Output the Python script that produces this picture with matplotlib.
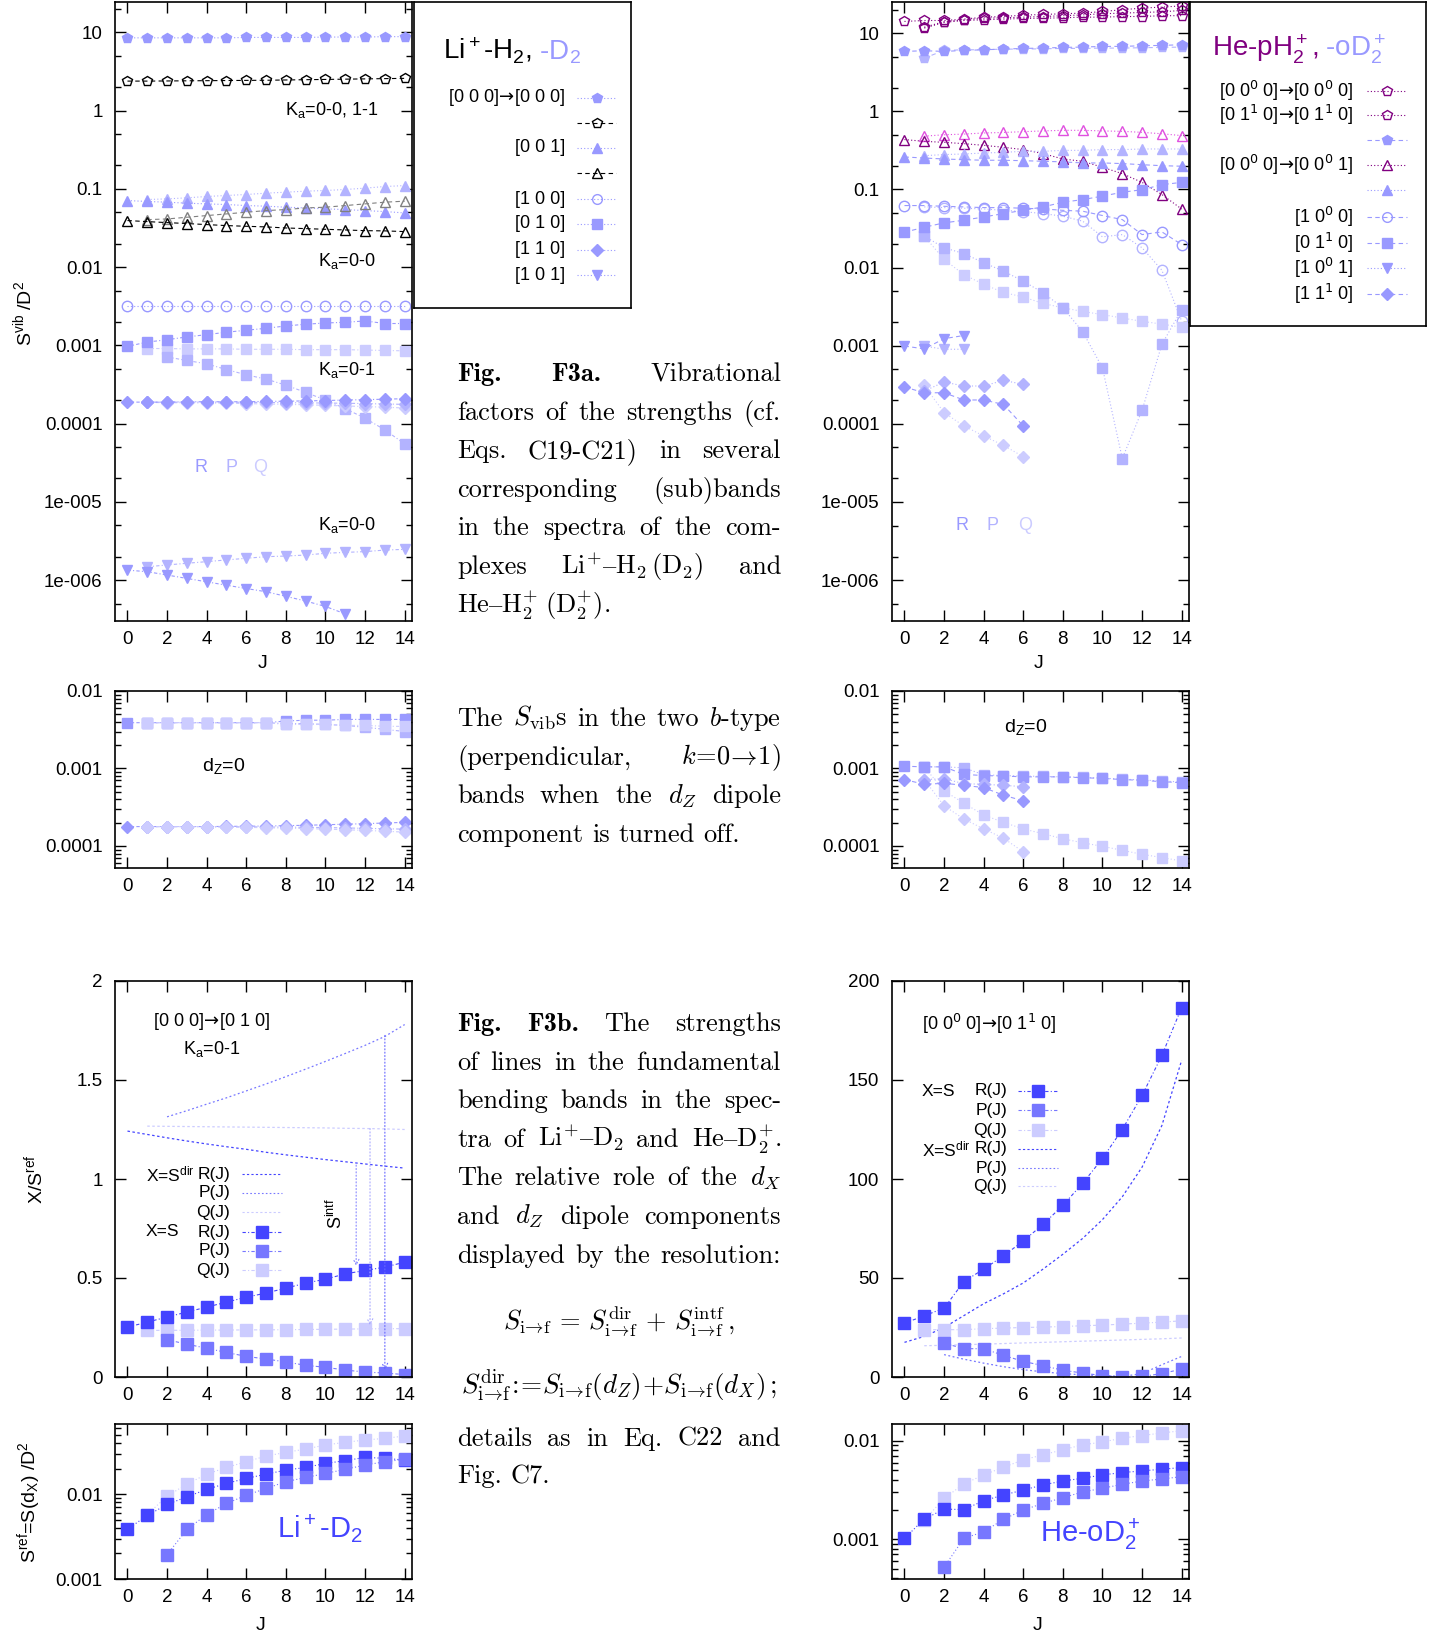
import numpy as np
import matplotlib
matplotlib.use('Agg')
import matplotlib.pyplot as plt
from matplotlib.lines import Line2D
from matplotlib.ticker import FixedLocator, FixedFormatter, LogLocator, NullFormatter, NullLocator

W, H = 1442, 1636

plt.rcParams.update({
    'font.family': ['Liberation Sans', 'DejaVu Sans'],
    'font.size': 13.5,
    'mathtext.fontset': 'custom',
    'mathtext.rm': 'Liberation Sans',
    'mathtext.it': 'Liberation Sans:italic',
    'mathtext.bf': 'Liberation Sans:bold',
    'axes.linewidth': 1.2,
})

# ---------------- data ----------------
J = np.arange(15)
J1 = np.arange(1, 15)
J2 = np.arange(2, 15)

# Li+-H2 / Li+-D2, vibrational factors
li_pent_D2 = [8.5, 8.5, 8.5, 8.5, 8.5, 8.5, 8.6, 8.6, 8.6, 8.6, 8.7, 8.7, 8.7, 8.8, 8.8]
li_pent_H2 = [2.38, 2.38, 2.39, 2.40, 2.41, 2.42, 2.43, 2.44, 2.46, 2.48, 2.50, 2.52, 2.54, 2.56, 2.58]
li_tri_D2_R = [0.0708, 0.0689, 0.0675, 0.0655, 0.0642, 0.063, 0.0611, 0.060, 0.0582, 0.057, 0.0554, 0.0543, 0.0527, 0.0512, 0.0492]
li_tri_D2_P = [0.073, 0.0744, 0.0767, 0.0798, 0.0822, 0.0846, 0.088, 0.0906, 0.0933, 0.0952, 0.098, 0.102, 0.107, 0.11]
li_tri_H2_R = [0.0393, 0.0381, 0.037, 0.036, 0.0349, 0.0339, 0.0332, 0.0326, 0.0316, 0.031, 0.0304, 0.0298, 0.0292, 0.029, 0.0284]
li_tri_H2_P = [0.0404, 0.0412, 0.0433, 0.0455, 0.0478, 0.0502, 0.0527, 0.0543, 0.057, 0.0582, 0.0611, 0.0642, 0.0675, 0.0695]
li_circ = [0.0032, 0.0032, 0.0032, 0.0032, 0.0032, 0.0032, 0.0032, 0.0032, 0.0032, 0.0032, 0.0032, 0.0032, 0.0032, 0.0032, 0.0032]
li_sq_R = [0.00097, 0.0011, 0.00118, 0.00128, 0.00137, 0.00147, 0.00156, 0.00165, 0.00177, 0.00186, 0.00193, 0.00197, 0.00205, 0.0019, 0.0019]
li_sq_P = [0.00071, 0.00064, 0.00058, 0.00049, 0.00042, 0.00037, 0.00031, 0.00025, 0.0002, 0.000155, 0.000117, 0.000083, 0.000055]
li_sq_Q = [0.00091, 0.00091, 0.0009, 0.0009, 0.0009, 0.00089, 0.00089, 0.00089, 0.00088, 0.00088, 0.00088, 0.00087, 0.00086, 0.00085]
li_dia_R = [1.88e-4, 1.88e-4, 1.88e-4, 1.9e-4, 1.9e-4, 1.9e-4, 1.9e-4, 1.92e-4, 1.93e-4, 1.95e-4, 1.97e-4, 2.0e-4, 2.02e-4, 2.05e-4, 2.08e-4]
li_dia_P = [1.88e-4, 1.88e-4, 1.88e-4, 1.88e-4, 1.88e-4, 1.87e-4, 1.86e-4, 1.85e-4, 1.84e-4, 1.83e-4, 1.82e-4, 1.8e-4, 1.78e-4, 1.76e-4]
li_dia_Q = [1.86e-4, 1.85e-4, 1.84e-4, 1.83e-4, 1.82e-4, 1.8e-4, 1.78e-4, 1.76e-4, 1.74e-4, 1.71e-4, 1.68e-4, 1.65e-4, 1.62e-4, 1.58e-4]
li_dtri_R = [1.34e-6, 1.28e-6, 1.16e-6, 1.05e-6, 9.5e-7, 8.6e-7, 7.8e-7, 7.1e-7, 6.2e-7, 5.4e-7, 4.6e-7, 3.7e-7]
li_dtri_P = [1.48e-6, 1.56e-6, 1.64e-6, 1.72e-6, 1.81e-6, 1.9e-6, 1.99e-6, 2.03e-6, 2.09e-6, 2.2e-6, 2.26e-6, 2.31e-6, 2.42e-6, 2.47e-6]

# He-pH2+ / He-oD2+, vibrational factors
he_pent_A = [14.1, 14.5, 14.5, 15.1, 16.0, 16.3, 17.0, 17.3, 17.7, 18.0, 18.9, 19.9, 20.9, 21.5, 22.3]
he_pent_B = [11.9, 14.0, 14.8, 15.5, 15.7, 16.0, 16.3, 16.7, 17.1, 17.7, 18.0, 18.4, 18.7, 19.5]
he_pent_C = [11.6, 13.7, 14.5, 14.8, 15.1, 15.4, 15.5, 15.7, 16.0, 16.0, 16.3, 16.3, 16.7, 16.7]
hd_pent_R = [5.83, 5.95, 5.83, 6.0, 6.12, 6.24, 6.37, 6.43, 6.56, 6.62, 6.76, 6.76, 6.89, 6.96, 7.1]
hd_pent_P = [4.79, 6.0, 6.12, 6.12, 6.24, 6.24, 6.3, 6.37, 6.37, 6.43, 6.43, 6.5, 6.56, 6.62]
he_tri_R = [0.434, 0.412, 0.40, 0.385, 0.366, 0.346, 0.323, 0.287, 0.245, 0.229, 0.192, 0.159, 0.123, 0.086, 0.056]
he_tri_P = [0.48, 0.50, 0.51, 0.527, 0.535, 0.548, 0.56, 0.57, 0.57, 0.56, 0.553, 0.537, 0.515, 0.488]
hd_tri_R = [0.26, 0.252, 0.245, 0.24, 0.236, 0.236, 0.233, 0.229, 0.225, 0.218, 0.218, 0.214, 0.207, 0.201, 0.198]
hd_tri_P = [0.27, 0.279, 0.284, 0.292, 0.298, 0.307, 0.307, 0.316, 0.316, 0.323, 0.323, 0.329, 0.329, 0.329]
hd_circ_R = [0.0621, 0.0621, 0.0608, 0.0597, 0.0585, 0.0585, 0.0574, 0.0562, 0.054, 0.0526, 0.0463, 0.0411, 0.0264, 0.0286, 0.0197]
hd_circ_P = [0.0597, 0.0585, 0.0574, 0.0562, 0.054, 0.052, 0.049, 0.0454, 0.0392, 0.0247, 0.0264, 0.0179, 0.00925, 0.00206]
hd_sq_R = [0.0283, 0.0328, 0.0373, 0.0403, 0.0444, 0.049, 0.054, 0.0597, 0.0685, 0.074, 0.082, 0.092, 0.099, 0.115, 0.123]
hd_sq_P = [0.0252, 0.0179, 0.0151, 0.0115, 0.009, 0.0067, 0.00475, 0.00306, 0.00151, 0.00052, 3.6e-5, 1.49e-4, 0.00104, 0.0029]
hd_sq_Q = [0.0252, 0.0127, 0.0081, 0.0061, 0.0048, 0.0042, 0.00347, 0.00306, 0.00274, 0.0025, 0.00226, 0.00205, 0.00189, 0.00172]
hd_dtri_R = [0.00099, 0.00091, 0.00123, 0.00135]
hd_dtri_P = [0.00099, 0.0009, 0.0009]
hd_dia_R = [2.96e-4, 2.5e-4, 2.5e-4, 2.02e-4, 2.02e-4, 1.77e-4, 9.4e-5]
hd_dia_P = [2.63e-4, 3.43e-4, 3.05e-4, 3.05e-4, 3.6e-4, 3.2e-4]
hd_dia_Q = [3.1e-4, 1.39e-4, 9.4e-5, 7.0e-5, 5.3e-5, 3.8e-5]

# d_Z = 0
mz_li_sq_R = [0.0039, 0.0039, 0.0039, 0.0039, 0.0039, 0.0039, 0.0039, 0.0039, 0.0041, 0.0042, 0.0042, 0.0043, 0.0043, 0.0043, 0.0043]
mz_li_sq_P = [0.0039, 0.0039, 0.0039, 0.0039, 0.0039, 0.0039, 0.0039, 0.0038, 0.0038, 0.0037, 0.0036, 0.0034, 0.0032, 0.003]
mz_li_sq_Q = [0.0039, 0.0039, 0.0039, 0.0039, 0.0039, 0.0039, 0.0039, 0.0037, 0.0037, 0.0037, 0.0036, 0.0036, 0.0035, 0.0035]
mz_li_dia_R = [1.78e-4, 1.78e-4, 1.78e-4, 1.78e-4, 1.78e-4, 1.79e-4, 1.8e-4, 1.81e-4, 1.83e-4, 1.85e-4, 1.88e-4, 1.91e-4, 1.94e-4, 1.98e-4, 2.02e-4]
mz_li_dia_P = [1.78e-4, 1.78e-4, 1.78e-4, 1.78e-4, 1.77e-4, 1.77e-4, 1.76e-4, 1.75e-4, 1.74e-4, 1.73e-4, 1.71e-4, 1.69e-4, 1.67e-4, 1.65e-4]
mz_li_dia_Q = [1.78e-4, 1.77e-4, 1.77e-4, 1.76e-4, 1.75e-4, 1.74e-4, 1.72e-4, 1.7e-4, 1.68e-4, 1.65e-4, 1.62e-4, 1.59e-4, 1.55e-4, 1.51e-4]
mz_he_sq_R = [0.00107, 0.00105, 0.00105, 0.00084, 0.00081, 0.0008, 0.00078, 0.00078, 0.00078, 0.00076, 0.000745, 0.00072, 0.000703, 0.000676, 0.000656]
mz_he_sq_P = [0.00105, 0.00105, 0.00102, 0.00083, 0.00081, 0.0008, 0.00079, 0.00078, 0.00077, 0.00075, 0.00073, 0.00071, 0.00069, 0.00067]
mz_he_sq_Q = [0.00105, 0.000514, 0.000357, 0.000251, 0.000202, 0.000166, 0.000144, 0.000124, 0.00011, 9.9e-5, 8.8e-5, 7.8e-5, 7.1e-5, 6.4e-5]
mz_he_dia_R = [7.2e-4, 6.25e-4, 6.44e-4, 6.07e-4, 5.67e-4, 4.52e-4, 3.83e-4]
mz_he_dia_P = [7.2e-4, 7.38e-4, 6.37e-4, 6.25e-4, 6.07e-4, 5.83e-4]
mz_he_dia_Q = [7.2e-4, 3.3e-4, 2.23e-4, 1.66e-4, 1.26e-4, 8.4e-5]

# bending bands, X/S^ref
bl_S_R = [0.252, 0.277, 0.303, 0.328, 0.353, 0.378, 0.403, 0.424, 0.449, 0.474, 0.494, 0.521, 0.538, 0.555, 0.58]
bl_S_P = [0.188, 0.166, 0.145, 0.124, 0.104, 0.091, 0.076, 0.059, 0.049, 0.035, 0.025, 0.020, 0.012]
bl_S_Q = [0.235, 0.236, 0.236, 0.237, 0.237, 0.238, 0.238, 0.239, 0.240, 0.241, 0.242, 0.243, 0.244, 0.244]
bl_dir_R = [1.242, 1.225, 1.208, 1.192, 1.177, 1.163, 1.150, 1.135, 1.122, 1.110, 1.098, 1.087, 1.076, 1.065, 1.055]
bl_dir_P = [1.314, 1.345, 1.378, 1.41, 1.445, 1.48, 1.517, 1.555, 1.594, 1.634, 1.675, 1.72, 1.78]
bl_dir_Q = [1.267, 1.266, 1.265, 1.264, 1.263, 1.262, 1.261, 1.26, 1.259, 1.258, 1.256, 1.255, 1.253, 1.25]
intf_J = [11.55, 12.25, 13.0]
intf_from = [1.07, 1.255, 1.725]
intf_to = [0.56, 0.26, 0.035]

br_S_R = [27.2, 30.9, 34.8, 48.2, 54.5, 61.2, 68.7, 77.1, 86.7, 97.8, 110.4, 125.0, 142.2, 162.4, 186.6]
br_S_P = [17.1, 14.3, 14.3, 10.9, 7.9, 5.7, 3.4, 2.0, 0.7, 0.0, 0.3, 1.7, 4.0]
br_S_Q = [23.9, 23.9, 23.9, 24.4, 24.7, 25.0, 25.2, 25.5, 25.9, 26.2, 26.7, 27.2, 27.7, 28.4]
br_dir_R = [17.5, 20.5, 25.0, 31.0, 37.0, 42.0, 47.5, 54.5, 62.0, 70.0, 79.5, 91.0, 106.0, 127.0, 160.0]
br_dir_P = [11.3, 9.0, 7.0, 5.2, 3.7, 2.6, 1.7, 1.1, 0.7, 0.3, 1.7, 6.2, 10.4]
br_dir_Q = [15.8, 16.0, 16.3, 16.6, 16.9, 17.2, 17.5, 17.8, 18.1, 18.4, 18.7, 19.0, 19.3, 19.7]

# S^ref = S(d_X)
sl_R = [0.00386, 0.0056, 0.00755, 0.0093, 0.01135, 0.0134, 0.0153, 0.0172, 0.0192, 0.0206, 0.023, 0.0248, 0.0271, 0.0264, 0.0252]
sl_P = [0.00194, 0.00383, 0.00575, 0.00776, 0.0097, 0.01166, 0.014, 0.0157, 0.0175, 0.0196, 0.022, 0.0241, 0.0257]
sl_Q = [0.00575, 0.00947, 0.0131, 0.0172, 0.0206, 0.0241, 0.0281, 0.031, 0.034, 0.0379, 0.0408, 0.0434, 0.0454, 0.0484]
sr_R = [0.00102, 0.0016, 0.00202, 0.002, 0.00246, 0.00281, 0.00316, 0.00356, 0.0039, 0.00416, 0.0045, 0.00475, 0.00494, 0.00514, 0.00534]
sr_P = [0.00052, 0.00102, 0.00119, 0.00159, 0.00198, 0.00231, 0.00264, 0.00302, 0.00329, 0.00361, 0.0039, 0.00409, 0.00432]
sr_Q = [0.00156, 0.0026, 0.00364, 0.0045, 0.00538, 0.0064, 0.0072, 0.0081, 0.0091, 0.0097, 0.01064, 0.0113, 0.012, 0.01265]

log_ticks = [10, 1, 0.1, 0.01, 0.001, 0.0001, 1e-5, 1e-6]
log_labels = ['10', '1', '0.1', '0.01', '0.001', '0.0001', '1e-005', '1e-006']

# ---------------- styles ----------------
C_R, C_P, C_Q = '#9999ff', '#b3b3ff', '#ccccff'
B_R, B_P, B_Q = '#4444ff', '#7777ff', '#ccccff'
PURPLE, PINK = '#800080', '#e050e0'
DOT = (0, (1, 2))
DDOT = (0, (3, 2, 1, 2))
DASH = (0, (4, 3))
ARW = r'$\!\rightarrow\!$'

fig = plt.figure(figsize=(W / 100, H / 100), dpi=100)


def rect(x0, y0, x1, y1):
    return [x0 / W, 1 - y1 / H, (x1 - x0) / W, (y1 - y0) / H]


def fx(x):
    return x / W


def fy(y):
    return 1 - y / H


def setup(ax, ylim, yticks, ylabels, log=True, subs=(2, 5)):
    ax.set_xlim(-0.63, 14.37)
    if log:
        ax.set_yscale('log')
    ax.set_ylim(*ylim)
    ax.xaxis.set_major_locator(FixedLocator(range(0, 15, 2)))
    ax.xaxis.set_minor_locator(NullLocator())
    ax.yaxis.set_major_locator(FixedLocator(yticks))
    ax.yaxis.set_major_formatter(FixedFormatter(ylabels))
    if log:
        ax.yaxis.set_minor_locator(LogLocator(base=10, subs=subs, numticks=30))
        ax.yaxis.set_minor_formatter(NullFormatter())
    else:
        ax.yaxis.set_minor_locator(NullLocator())
    ax.tick_params(which='both', direction='in', top=True, right=True, width=1)
    ax.tick_params(which='major', length=8, labelsize=13.5)
    ax.tick_params(which='minor', length=4)
    ax.tick_params(axis='y', pad=9)
    ax.tick_params(axis='x', pad=7)


def ser(ax, x, y, mk, c, ls=DOT, hollow=False, ms=7.5, lw=0.8):
    ax.plot(x, y, ls=ls, color=c, lw=lw, marker=mk, ms=ms,
            mfc='none' if hollow else c, mec=c, mew=1.0)


def key(x0, x1, y, c, ls, mk=None, hollow=False, ms=7.5):
    fig.add_artist(Line2D([fx(x0), fx(x1)], [fy(y), fy(y)], transform=fig.transFigure,
                          color=c, ls=ls, lw=0.8))
    if mk:
        fig.add_artist(Line2D([fx((x0 + x1) / 2)], [fy(y)], transform=fig.transFigure,
                              marker=mk, ms=ms, color=c, mfc='none' if hollow else c, mec=c, mew=1.0))


def label(x, y, s, ha='center', **kw):
    # labels with arrows: math in DejaVu so the arrow has a normal size
    fig.text(fx(x), fy(y), s, ha=ha, va='center', math_fontfamily='dejavusans', **kw)


# ---------------- top-left: Li+-H2, -D2 ----------------
ax = fig.add_axes(rect(115, 2, 412, 621))
setup(ax, (3.0e-7, 24.4), log_ticks, log_labels)
ser(ax, J, li_pent_D2, 'p', C_R)
ser(ax, J, li_pent_H2, 'p', 'k', DASH, hollow=True)
ser(ax, J1, li_tri_D2_P, '^', C_P)
ser(ax, J, li_tri_D2_R, '^', C_R)
ser(ax, J1, li_tri_H2_P, '^', 'gray', DASH, hollow=True)
ser(ax, J, li_tri_H2_R, '^', 'k', DASH, hollow=True)
ser(ax, J, li_circ, 'o', C_R, hollow=True)
ser(ax, J1, li_sq_Q, 's', C_Q, DDOT)
ser(ax, J2, li_sq_P, 's', C_P, DDOT)
ser(ax, J, li_sq_R, 's', C_R, DDOT)
ser(ax, J1, li_dia_Q, 'D', C_Q, DDOT, ms=6.5)
ser(ax, J1, li_dia_P, 'D', C_P, DDOT, ms=6.5)
ser(ax, J, li_dia_R, 'D', C_R, DDOT, ms=6.5)
ser(ax, J1, li_dtri_P, 'v', C_P, DDOT)
ser(ax, np.arange(12), li_dtri_R, 'v', C_R, DDOT)
fs_in = 13
fig.text(fx(332), fy(110), r'K$_\mathrm{a}$=0-0, 1-1', ha='center', va='center', fontsize=fs_in)
fig.text(fx(347), fy(261), r'K$_\mathrm{a}$=0-0', ha='center', va='center', fontsize=fs_in)
fig.text(fx(347), fy(370), r'K$_\mathrm{a}$=0-1', ha='center', va='center', fontsize=fs_in)
fig.text(fx(347), fy(525), r'K$_\mathrm{a}$=0-0', ha='center', va='center', fontsize=fs_in)
for xx, lab, c in [(201, 'R', C_R), (231, 'P', C_P), (260, 'Q', C_Q)]:
    fig.text(fx(xx), fy(467), lab, color=c, ha='center', va='center', fontsize=fs_in)

# legend box
lg = fig.add_axes(rect(414, 2, 631, 308))
lg.set_xticks([])
lg.set_yticks([])
t1 = fig.text(fx(443), fy(59), r'Li$^+$-H$_2$,', fontsize=20, va='baseline')
lg.annotate(r' -D$_2$', xy=(1, 0), xycoords=t1, va='bottom', ha='left', fontsize=20, color=C_R)
tl_rows = [(98, '[0 0 0]' + ARW + '[0 0 0]', C_R, DOT, 'p', False),
           (123, '', 'k', DASH, 'p', True),
           (148, '[0 0 1]', C_R, DOT, '^', False),
           (173, '', 'k', DASH, '^', True),
           (199, '[1 0 0]', C_R, DOT, 'o', True),
           (224, '[0 1 0]', C_R, DOT, 's', False),
           (250, '[1 1 0]', C_R, DOT, 'D', False),
           (275, '[1 0 1]', C_R, DOT, 'v', False)]
for yy, lab, c, ls, mk, hol in tl_rows:
    label(565, yy, lab, ha='right', fontsize=13)
    key(577, 616, yy, c, ls, mk, hol, ms=7 if mk != 'D' else 6)

# ---------------- top-right: He-pH2+, -oD2+ ----------------
ax = fig.add_axes(rect(892, 2, 1189, 621))
setup(ax, (3.0e-7, 25.0), log_ticks, log_labels)
ser(ax, J, he_pent_A, 'p', PURPLE, DOT, hollow=True)
ser(ax, J1, he_pent_B, 'p', PURPLE, DOT, hollow=True)
ser(ax, J1, he_pent_C, 'p', PURPLE, DOT, hollow=True)
ser(ax, J1, hd_pent_P, 'p', C_P, DASH)
ser(ax, J, hd_pent_R, 'p', C_R, DASH)
ser(ax, J1, he_tri_P, '^', PINK, DOT, hollow=True)
ser(ax, J, he_tri_R, '^', PURPLE, DOT, hollow=True)
ser(ax, J1, hd_tri_P, '^', C_P, DOT)
ser(ax, J, hd_tri_R, '^', C_R, DASH)
ser(ax, J1, hd_circ_P, 'o', C_P, DOT, hollow=True)
ser(ax, J, hd_circ_R, 'o', C_R, DASH, hollow=True)
ser(ax, J1, hd_sq_Q, 's', C_Q, DOT)
ser(ax, J1, hd_sq_P, 's', C_P, DOT)
ser(ax, J, hd_sq_R, 's', C_R, DASH)
ser(ax, [1, 2, 3], hd_dtri_P, 'v', C_P, DOT)
ser(ax, [0, 1, 2, 3], hd_dtri_R, 'v', C_R, DASH)
ser(ax, [1, 2, 3, 4, 5, 6], hd_dia_Q, 'D', C_Q, DOT, ms=6.5)
ser(ax, [1, 2, 3, 4, 5, 6], hd_dia_P, 'D', C_P, DOT, ms=6.5)
ser(ax, [0, 1, 2, 3, 4, 5, 6], hd_dia_R, 'D', C_R, DASH, ms=6.5)
for xx, lab, c in [(962, 'R', C_R), (993, 'P', C_P), (1025, 'Q', C_Q)]:
    fig.text(fx(xx), fy(525), lab, color=c, ha='center', va='center', fontsize=fs_in)

lg = fig.add_axes(rect(1190, 2, 1426, 326))
lg.set_xticks([])
lg.set_yticks([])
t2 = fig.text(fx(1212), fy(57), r'He-pH$_2^+$,', fontsize=20, va='baseline', color=PURPLE)
lg.annotate(r' -oD$_2^+$', xy=(1, 0), xycoords=t2, va='bottom', ha='left', fontsize=20, color=C_R)
tr_rows = [(91, r'[0 0$^0$ 0]' + ARW + r'[0 0$^0$ 0]', PURPLE, DOT, 'p', True),
           (115, r'[0 1$^1$ 0]' + ARW + r'[0 1$^1$ 0]', PURPLE, DOT, 'p', True),
           (140, '', C_R, DASH, 'p', False),
           (165, r'[0 0$^0$ 0]' + ARW + r'[0 0$^0$ 1]', PURPLE, DOT, '^', True),
           (190, '', C_R, DOT, '^', False),
           (217, r'[1 0$^0$ 0]', C_R, DASH, 'o', True),
           (243, r'[0 1$^1$ 0]', C_R, DASH, 's', False),
           (268, r'[1 0$^0$ 1]', C_R, DOT, 'v', False),
           (294, r'[1 1$^1$ 0]', C_R, DASH, 'D', False)]
for yy, lab, c, ls, mk, hol in tr_rows:
    label(1353, yy, lab, ha='right', fontsize=13)
    key(1367, 1407, yy, c, ls, mk, hol, ms=7 if mk != 'D' else 6)

# ---------------- middle: d_Z = 0 ----------------
mid_ticks = [0.01, 0.001, 0.0001]
mid_labels = ['0.01', '0.001', '0.0001']
ax = fig.add_axes(rect(115, 691, 412, 868))
setup(ax, (5.2e-5, 0.01), mid_ticks, mid_labels, subs=np.arange(2, 10))
ser(ax, J, mz_li_sq_R, 's', C_R, DDOT)
ser(ax, J1, mz_li_sq_P, 's', C_P, DDOT)
ser(ax, J1, mz_li_sq_Q, 's', C_Q, DDOT)
ser(ax, J, mz_li_dia_R, 'D', C_R, DDOT, ms=6.5)
ser(ax, J1, mz_li_dia_P, 'D', C_P, DDOT, ms=6.5)
ser(ax, J1, mz_li_dia_Q, 'D', C_Q, DDOT, ms=6.5)
fig.text(fx(224), fy(766), r'd$_\mathrm{Z}$=0', ha='center', va='center', fontsize=14)

ax = fig.add_axes(rect(892, 691, 1189, 868))
setup(ax, (5.2e-5, 0.01), mid_ticks, mid_labels, subs=np.arange(2, 10))
ser(ax, J1, mz_he_sq_Q, 's', C_Q, DOT)
ser(ax, J1, mz_he_sq_P, 's', C_P, DOT)
ser(ax, J, mz_he_sq_R, 's', C_R, DASH)
ser(ax, [1, 2, 3, 4, 5, 6], mz_he_dia_Q, 'D', C_Q, DOT, ms=6.5)
ser(ax, [1, 2, 3, 4, 5, 6], mz_he_dia_P, 'D', C_P, DOT, ms=6.5)
ser(ax, [0, 1, 2, 3, 4, 5, 6], mz_he_dia_R, 'D', C_R, DASH, ms=6.5)
fig.text(fx(1026), fy(727), r'd$_\mathrm{Z}$=0', ha='center', va='center', fontsize=14)

# ---------------- bottom-left big: X/S^ref, Li+-D2 ----------------
ax = fig.add_axes(rect(115, 981, 412, 1377))
setup(ax, (0, 2), [0, 0.5, 1, 1.5, 2], ['0', '0.5', '1', '1.5', '2'], log=False)
ax.plot(J, bl_dir_R, color=B_R, ls=(0, (2, 2)), lw=0.9)
ax.plot(J2, bl_dir_P, color=B_P, ls=(0, (1.5, 2)), lw=0.9)
ax.plot(J1, bl_dir_Q, color=B_Q, ls=(0, (2, 2)), lw=0.9)
ser(ax, J1, bl_S_Q, 's', B_Q, DDOT, ms=8)
ser(ax, J2, bl_S_P, 's', B_P, DDOT, ms=8)
ser(ax, J, bl_S_R, 's', B_R, DDOT, ms=8)
for xj, y0, y1, c in zip(intf_J, intf_from, intf_to, ['#8888ff', '#aaaaff', '#6666ff']):
    ax.annotate('', xy=(xj, y1), xytext=(xj, y0),
                arrowprops=dict(arrowstyle='->', color=c, lw=0.8, linestyle=(0, (1, 2)),
                                shrinkA=0, shrinkB=0, mutation_scale=10))
fig.text(fx(336), fy(1213), r'S$^\mathrm{intf}$', rotation=90, ha='center', va='center', fontsize=13)
label(212, 1021, '[0 0 0]' + ARW + '[0 1 0]', fontsize=13)
fig.text(fx(212), fy(1049), r'K$_\mathrm{a}$=0-1', ha='center', va='center', fontsize=13)
bl_rows = [(1174, r'X=S$^\mathrm{dir}$', 'R(J)', B_R, (0, (2, 2)), None),
           (1193, '', 'P(J)', B_P, (0, (1.5, 2)), None),
           (1212, '', 'Q(J)', B_Q, (0, (2, 2)), None),
           (1232, 'X=S', 'R(J)', B_R, DDOT, 's'),
           (1251, '', 'P(J)', B_P, DDOT, 's'),
           (1270, '', 'Q(J)', B_Q, DDOT, 's')]
for yy, lead, lab, c, ls, mk in bl_rows:
    if lead:
        fig.text(fx(146), fy(yy), lead, ha='left', va='center', fontsize=12.5)
    fig.text(fx(230), fy(yy), lab, ha='right', va='center', fontsize=12.5)
    key(242, 282, yy, c, ls, mk, ms=8)

# ---------------- bottom-right big: He-oD2+ ----------------
ax = fig.add_axes(rect(892, 981, 1189, 1377))
setup(ax, (0, 200), [0, 50, 100, 150, 200], ['0', '50', '100', '150', '200'], log=False)
ax.plot(J, br_dir_R, color=B_R, ls=(0, (2, 2)), lw=0.9)
ax.plot(J2, br_dir_P, color=B_P, ls=(0, (1.5, 2)), lw=0.9)
ax.plot(J1, br_dir_Q, color=B_Q, ls=(0, (2, 2)), lw=0.9)
ser(ax, J1, br_S_Q, 's', B_Q, DDOT, ms=8)
ser(ax, J2, br_S_P, 's', B_P, DDOT, ms=8)
ser(ax, J, br_S_R, 's', B_R, DDOT, ms=8)
label(989, 1024, r'[0 0$^0$ 0]' + ARW + r'[0 1$^1$ 0]', fontsize=13)
br_rows = [(1091, 'X=S', 'R(J)', B_R, DDOT, 's'),
           (1110, '', 'P(J)', B_P, DDOT, 's'),
           (1130, '', 'Q(J)', B_Q, DDOT, 's'),
           (1149, r'X=S$^\mathrm{dir}$', 'R(J)', B_R, (0, (2, 2)), None),
           (1168, '', 'P(J)', B_P, (0, (1.5, 2)), None),
           (1186, '', 'Q(J)', B_Q, (0, (2, 2)), None)]
for yy, lead, lab, c, ls, mk in br_rows:
    if lead:
        fig.text(fx(922), fy(yy), lead, ha='left', va='center', fontsize=12.5)
    fig.text(fx(1007), fy(yy), lab, ha='right', va='center', fontsize=12.5)
    key(1018, 1058, yy, c, ls, mk, ms=8)

# ---------------- bottom small: S^ref = S(d_X) ----------------
ax = fig.add_axes(rect(115, 1424, 412, 1579))
setup(ax, (0.001, 0.067), [0.01, 0.001], ['0.01', '0.001'], subs=np.arange(2, 10))
ser(ax, J1, sl_Q, 's', B_Q, DOT, ms=8)
ser(ax, J, sl_R, 's', B_R, DOT, ms=8)
ser(ax, J2, sl_P, 's', B_P, DOT, ms=8)
fig.text(fx(320), fy(1529), r'Li$^+$-D$_2$', color=B_R, ha='center', va='center', fontsize=21)

ax = fig.add_axes(rect(892, 1424, 1189, 1579))
setup(ax, (3.94e-4, 0.0148), [0.01, 0.001], ['0.01', '0.001'], subs=np.arange(2, 10))
ser(ax, J1, sr_Q, 's', B_Q, DOT, ms=8)
ser(ax, J, sr_R, 's', B_R, DOT, ms=8)
ser(ax, J2, sr_P, 's', B_P, DOT, ms=8)
fig.text(fx(1090), fy(1534), r'He-oD$_2^+$', color=B_R, ha='center', va='center', fontsize=21)

# axis labels
fig.text(fx(23), fy(313), r'S$^\mathrm{vib}$ /D$^2$', rotation=90, ha='center', va='center', fontsize=14)
fig.text(fx(34), fy(1179), r'X/S$^\mathrm{ref}$', rotation=90, ha='center', va='center', fontsize=14)
fig.text(fx(29), fy(1502), r'S$^\mathrm{ref}$=S(d$_\mathrm{X}$) /D$^2$', rotation=90, ha='center', va='center', fontsize=14)
for xx, yy in [(263, 663), (1039, 663), (261, 1626), (1038, 1626)]:
    fig.text(fx(xx), fy(yy), 'J', ha='center', va='center', fontsize=14)

# ---------------- caption text column ----------------
renderer = fig.canvas.get_renderer()
X0, X1, FS = 457, 781, 19
IF = r'\mathrm{i}\!\rightarrow\!\mathrm{f}'


def tline(s, y, just=True):
    arts = []
    for tok in s.split(' '):
        bold = tok.startswith('**')
        txt = tok[2:] if bold else tok
        arts.append(fig.text(0, fy(y), txt, fontsize=FS, family='cmb10' if bold else 'cmr10',
                             math_fontfamily='cm', va='baseline', ha='left'))
    ws = [a.get_window_extent(renderer).width for a in arts]
    if just and len(arts) > 1:
        gap = (X1 - X0 - sum(ws)) / (len(arts) - 1)
    else:
        gap = FS * 100 / 72 * 0.33
    x = X0
    for a, w in zip(arts, ws):
        a.set_x(fx(x))
        x += w + gap


par1 = ['**Fig. **F3a. Vibrational',
        'factors of the strengths (cf.',
        'Eqs. C19-C21) in several',
        'corresponding (sub)bands',
        'in the spectra of the com-',
        r'plexes $\mathrm{Li^{+}{–}H_{2}\,(D_{2})}$ and',
        r'$\mathrm{He{–}H_{2}^{+}\;(D_{2}^{+})}$.']
for i, s in enumerate(par1):
    tline(s, 381 + 38.6 * i, just=i < len(par1) - 1)

par2 = [r'The $S_{\mathrm{vib}}$s in the two $b$-type',
        r'(perpendicular, $k\!=\!0\!\rightarrow\!1$)',
        r'bands when the $d_Z$ dipole',
        'component is turned off.']
for i, s in enumerate(par2):
    tline(s, 726 + 38.6 * i, just=i < len(par2) - 1)

par3 = ['**Fig. **F3b. The strengths',
        'of lines in the fundamental',
        'bending bands in the spec-',
        r'tra of $\mathrm{Li^{+}{–}D_{2}}$ and $\mathrm{He{–}D_{2}^{+}}$.',
        r'The relative role of the $d_X$',
        r'and $d_Z$ dipole components',
        'displayed by the resolution:']
for i, s in enumerate(par3):
    tline(s, 1031 + 38.6 * i)

fig.text(fx(619), fy(1329),
         r'$S_{' + IF + r'}\,=\,S^{\mathrm{dir}}_{' + IF + r'}\,+\,S^{\mathrm{intf}}_{' + IF + r'}\,,$',
         fontsize=FS, math_fontfamily='cm', ha='center', va='baseline')
fig.text(fx(619), fy(1393),
         r'$S^{\mathrm{dir}}_{' + IF + r'}\!:\!\!=\!S_{' + IF + r'}(d_Z)\!+\!S_{' + IF + r'}(d_X)\,;$',
         fontsize=FS + 0.5, math_fontfamily='cm', ha='center', va='baseline')
tline('details as in Eq. C22 and', 1446)
tline('Fig. C7.', 1483, just=False)

fig.savefig('out.png', dpi=100)
